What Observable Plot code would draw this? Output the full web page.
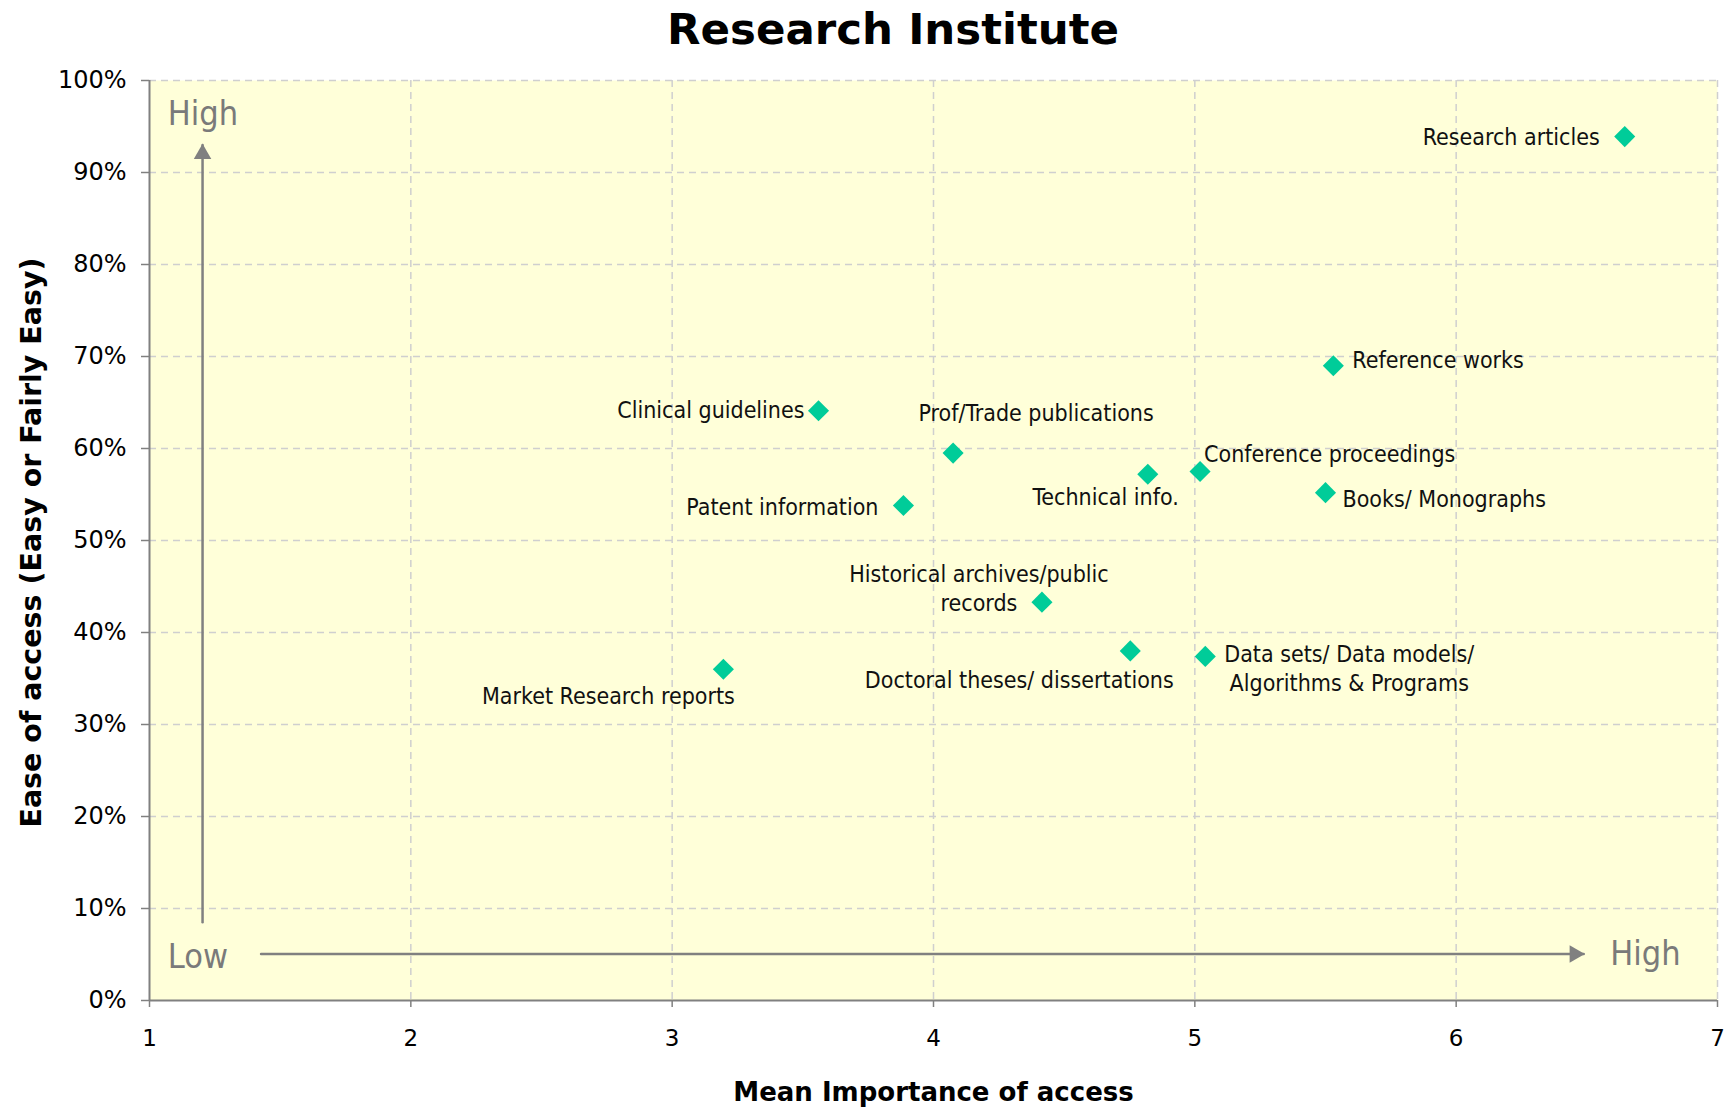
<!DOCTYPE html>
<html>
<head>
<meta charset="utf-8">
<script src="https://cdn.jsdelivr.net/npm/d3@7"></script>
<script src="https://cdn.jsdelivr.net/npm/@observablehq/plot@0.6"></script>
<style>
  html, body { margin: 0; padding: 0; background: #fff; }
  #title { height: 56px; line-height: 58px; font-family: "DejaVu Sans", sans-serif; font-weight: bold; font-size: 43.5px; color: #000; width: 1734px; text-align: center; text-indent: 52px; }
  #chart svg { display: block; overflow: visible; }
</style>
</head>
<body>
<div id="title">Research Institute</div>
<div id="chart"></div>
<script>
// ---- Data ----
const categories = [
  "Research articles",
  "Reference works",
  "Clinical guidelines",
  "Prof/Trade publications",
  "Technical info.",
  "Conference proceedings",
  "Books/ Monographs",
  "Patent information",
  "Historical archives/public\nrecords",
  "Doctoral theses/ dissertations",
  "Data sets/ Data models/\nAlgorithms & Programs",
  "Market Research reports"
];
const meanImportance = [6.645, 5.53, 3.56, 4.075, 4.82, 5.02, 5.50, 3.885, 4.415, 4.753, 5.04, 3.196];
const easeOfAccess   = [0.939, 0.690, 0.641, 0.595, 0.572, 0.575, 0.552, 0.538, 0.433, 0.380, 0.374, 0.360];

const xTicks = [1, 2, 3, 4, 5, 6, 7];
const yTicks = [0, 0.1, 0.2, 0.3, 0.4, 0.5, 0.6, 0.7, 0.8, 0.9, 1.0];

const xTitle = "Mean Importance of access";
const yTitle = "Ease of access (Easy or Fairly Easy)";

// Quadrant guide arrows (data coordinates)
const vArrowX = [1.203, 1.203];
const vArrowY = [0.085, 0.93];
const hArrowX = [1.427, 6.488];
const hArrowY = [0.0505, 0.0505];
const guideText = ["High", "Low", "High"];
const guideX = [1.07, 1.07, 6.59];
const guideY = [0.964, 0.047, 0.05];

const points = categories.map((name, i) => ({name, x: meanImportance[i], y: easeOfAccess[i]}));

// label placement (pixel offsets relative to each point)
const labelLayout = [
  {anchor: "end",    dx: -25,  dy: -1},
  {anchor: "start",  dx: 19,   dy: -7},
  {anchor: "end",    dx: -14,  dy: -2},
  {anchor: "middle", dx: 83,   dy: -41},
  {anchor: "end",    dx: 31,   dy: 22},
  {anchor: "start",  dx: 4,    dy: -19},
  {anchor: "start",  dx: 17,   dy: 5},
  {anchor: "end",    dx: -25,  dy: 0},
  {anchor: "middle", dx: -63,  dy: -15},
  {anchor: "middle", dx: -111, dy: 28},
  {anchor: "middle", dx: 144,  dy: 11},
  {anchor: "middle", dx: -115, dy: 25}
];

const labelFont = "'DejaVu Sans Condensed', 'Noto Sans', sans-serif";
const guideFont = "'Liberation Sans Narrow', 'Arial Narrow', 'DejaVu Sans Condensed', sans-serif";
const guideColor = "#7a7a7a";
const arrowColor = "#808080";

const labelMarks = points.map((p, i) => Plot.text([p], {
  x: "x", y: "y", text: "name",
  textAnchor: labelLayout[i].anchor,
  dx: labelLayout[i].dx, dy: labelLayout[i].dy,
  lineAnchor: "middle", lineHeight: 1.25,
  fontSize: 23, fill: "#111", fontFamily: labelFont
}));

const chart = Plot.plot({
  width: 1734,
  height: 1053,
  marginTop: 24,
  marginBottom: 109,
  marginLeft: 149,
  marginRight: 17,
  style: {fontFamily: "'DejaVu Sans', sans-serif", fontSize: "23px", color: "#000", background: "#fff", overflow: "visible"},
  x: {domain: [1, 7], ticks: xTicks, tickFormat: d3.format("d"), label: null},
  y: {domain: [0, 1], ticks: yTicks, tickFormat: d3.format(".0%"), label: null},
  marks: [
    Plot.frame({fill: "#FFFFD9", stroke: null}),
    Plot.gridX(xTicks.slice(1), {stroke: "#cfcfcf", strokeOpacity: 1, strokeWidth: 1.5, strokeDasharray: "7,5"}),
    Plot.gridY(yTicks.slice(1), {stroke: "#cfcfcf", strokeOpacity: 1, strokeWidth: 1.5, strokeDasharray: "7,5"}),
    Plot.axisX({ticks: xTicks, tickFormat: d3.format("d"), tickSize: 7, tickPadding: 22, stroke: arrowColor, strokeWidth: 1.5, fill: "#000", fontSize: 23, label: null}),
    Plot.axisY({ticks: yTicks, tickFormat: d3.format(".0%"), tickSize: 8, tickPadding: 15, stroke: arrowColor, strokeWidth: 1.5, fill: "#000", fontSize: 24, label: null}),
    Plot.ruleX([1], {stroke: arrowColor, strokeWidth: 2}),
    Plot.ruleY([0], {stroke: arrowColor, strokeWidth: 2}),
    // guide arrows
    Plot.line(vArrowX.map((x, i) => ({x, y: vArrowY[i]})), {x: "x", y: "y", stroke: arrowColor, strokeWidth: 2.5}),
    Plot.line(hArrowX.map((x, i) => ({x, y: hArrowY[i]})), {x: "x", y: "y", stroke: arrowColor, strokeWidth: 2.5}),
    Plot.dot([{x: vArrowX[1], y: vArrowY[1]}], {x: "x", y: "y", symbol: "triangle", r: 6.5, fill: arrowColor, stroke: null, dy: 9}),
    Plot.dot([{x: hArrowX[1], y: hArrowY[1]}], {x: "x", y: "y", symbol: "triangle", r: 6.5, fill: arrowColor, stroke: null, rotate: 90, dx: -9}),
    Plot.text(guideText.map((t, i) => ({t, x: guideX[i], y: guideY[i]})), {
      x: "x", y: "y", text: "t", textAnchor: "start", fontSize: 34, fill: guideColor, fontFamily: guideFont
    }),
    // points
    Plot.dot(points, {x: "x", y: "y", symbol: "diamond2", r: 9.5, fill: "#00CC99", stroke: null}),
    ...labelMarks,
    // axis titles
    Plot.text([xTitle], {frameAnchor: "bottom", textAnchor: "middle", lineAnchor: "middle", dy: 92, fontSize: 26, fontWeight: "bold", fill: "#000", fontFamily: "'DejaVu Sans', sans-serif"}),
    Plot.text([yTitle], {frameAnchor: "left", textAnchor: "middle", lineAnchor: "middle", dx: -118, dy: 2, rotate: -90, fontSize: 28.5, fontWeight: "bold", fill: "#000", fontFamily: "'DejaVu Sans', sans-serif"})
  ]
});
document.getElementById("chart").appendChild(chart);
</script>
</body>
</html>
